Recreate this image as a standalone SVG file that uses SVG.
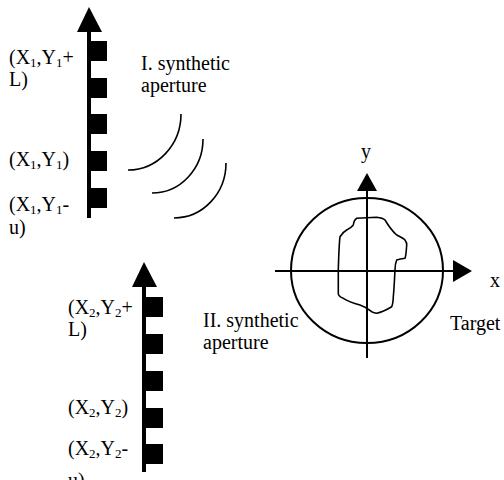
<svg xmlns="http://www.w3.org/2000/svg" width="504" height="480" viewBox="0 0 504 480">
<style>
text{font-family:"Liberation Serif","Times New Roman",serif;font-size:20px;fill:#000}
.sub{font-size:13px}
.ln{stroke:#000;stroke-width:2;fill:none}
.arc{stroke:#000;stroke-width:1.6;fill:none}
</style>
<rect width="504" height="480" fill="#fff"/>
<g id="aperture1">
<rect x="87" y="30" width="4" height="188" fill="#000"/>
<polygon points="77,32 89,7 102,32" fill="#000"/>
<rect x="90" y="41" width="17" height="20" fill="#000"/>
<rect x="90" y="78" width="17" height="20" fill="#000"/>
<rect x="90" y="114" width="17" height="20" fill="#000"/>
<rect x="90" y="151" width="17" height="20" fill="#000"/>
<rect x="90" y="188" width="17" height="20" fill="#000"/>
<text x="9" y="64">(X<tspan class="sub" dy="3">1</tspan><tspan dy="-3">,Y</tspan><tspan class="sub" dy="3">1</tspan><tspan dy="-3">+</tspan></text>
<text x="9" y="86">L)</text>
<text x="9" y="166">(X<tspan class="sub" dy="3">1</tspan><tspan dy="-3">,Y</tspan><tspan class="sub" dy="3">1</tspan><tspan dy="-3">)</tspan></text>
<text x="9" y="211">(X<tspan class="sub" dy="3">1</tspan><tspan dy="-3">,Y</tspan><tspan class="sub" dy="3">1</tspan><tspan dy="-3">-</tspan></text>
<text x="9" y="234">u)</text>
<text x="141" y="70">I. synthetic</text>
<text x="141" y="92">aperture</text>
</g>
<g id="waves">
<path class="arc" d="M128,170 A53,56 0 0 0 181,114"/>
<path class="arc" d="M152,193 A51,54 0 0 0 203,139"/>
<path class="arc" d="M174,218 A52,55 0 0 0 226,163"/>
</g>
<g id="aperture2">
<rect x="142" y="285" width="4" height="187" fill="#000"/>
<polygon points="132,287 144,262 157,287" fill="#000"/>
<rect x="145" y="297" width="18" height="20" fill="#000"/>
<rect x="145" y="334" width="18" height="20" fill="#000"/>
<rect x="145" y="371" width="18" height="20" fill="#000"/>
<rect x="145" y="408" width="18" height="20" fill="#000"/>
<rect x="145" y="444" width="18" height="20" fill="#000"/>
<text x="68" y="314">(X<tspan class="sub" dy="3">2</tspan><tspan dy="-3">,Y</tspan><tspan class="sub" dy="3">2</tspan><tspan dy="-3">+</tspan></text>
<text x="68" y="336">L)</text>
<text x="68" y="414">(X<tspan class="sub" dy="3">2</tspan><tspan dy="-3">,Y</tspan><tspan class="sub" dy="3">2</tspan><tspan dy="-3">)</tspan></text>
<text x="68" y="455">(X<tspan class="sub" dy="3">2</tspan><tspan dy="-3">,Y</tspan><tspan class="sub" dy="3">2</tspan><tspan dy="-3">-</tspan></text>
<text x="68" y="487">u)</text>
<text x="203" y="327">II. synthetic</text>
<text x="203" y="349">aperture</text>
</g>
<g id="target">
<ellipse class="ln" cx="367" cy="270.5" rx="76" ry="72.5"/>
<line class="ln" x1="275" y1="271" x2="456" y2="271"/>
<polygon points="453,260 472,271 453,282" fill="#000"/>
<line class="ln" x1="367" y1="358" x2="367" y2="188"/>
<polygon points="357,191 367,173 377,191" fill="#000"/>
<path class="arc" d="M356.7,218.3 L376.7,217.3 Q383,218 385,220 Q391,230 396.7,235 Q403,238 405,240 Q407,243 406.7,245 Q406,256 405,258.3 Q400,259 396.7,260 Q395,264 395,270 Q394,290 393.3,296.7 Q393,304 391.7,306.7 Q383,312 376.7,313.3 Q374,313 371.7,311.7 Q366,307 360,305 Q349,302 343.3,298.3 Q338,296 338.3,293.3 L338.3,270 Q339,245 340,236.7 Q343,232 346.7,230 Q351,228 353.3,225 Q354,220 356.7,218.3 Z"/>
<text x="361" y="158">y</text>
<text x="490" y="287">x</text>
<text x="450" y="330">Target</text>
</g>
</svg>
